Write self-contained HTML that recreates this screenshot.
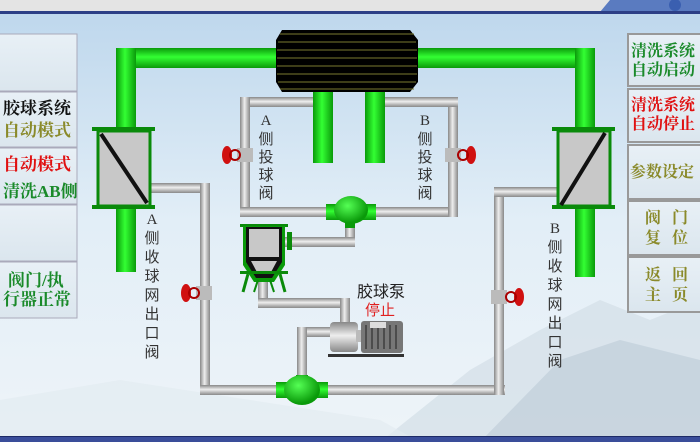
<!DOCTYPE html>
<html><head><meta charset="utf-8"><style>
body{margin:0;width:700px;height:442px;overflow:hidden;font-family:"Liberation Sans","Noto Sans CJK SC",sans-serif}
</style></head><body>
<svg width="700" height="442" viewBox="0 0 700 442" xmlns="http://www.w3.org/2000/svg" font-family="Liberation Serif,Noto Serif CJK SC,Noto Sans CJK SC,serif">
<defs>
<linearGradient id="sky" x1="0" y1="0" x2="0" y2="1"><stop offset="0" stop-color="#bcd6ec"/><stop offset="0.5" stop-color="#e2eef7"/><stop offset="1" stop-color="#eef4f8"/></linearGradient>
<linearGradient id="gv" x1="0" y1="0" x2="1" y2="0"><stop offset="0" stop-color="#0a9a0a"/><stop offset="0.45" stop-color="#33ff33"/><stop offset="1" stop-color="#0a9a0a"/></linearGradient>
<linearGradient id="gh" x1="0" y1="0" x2="0" y2="1"><stop offset="0" stop-color="#0a9a0a"/><stop offset="0.45" stop-color="#33ff33"/><stop offset="1" stop-color="#0a9a0a"/></linearGradient>
<linearGradient id="sv" x1="0" y1="0" x2="1" y2="0"><stop offset="0" stop-color="#888"/><stop offset="0.45" stop-color="#eee"/><stop offset="1" stop-color="#888"/></linearGradient>
<linearGradient id="sh" x1="0" y1="0" x2="0" y2="1"><stop offset="0" stop-color="#888"/><stop offset="0.45" stop-color="#eee"/><stop offset="1" stop-color="#888"/></linearGradient>
<radialGradient id="ball" cx="0.4" cy="0.35" r="0.6"><stop offset="0" stop-color="#55ff55"/><stop offset="1" stop-color="#0a9a0a"/></radialGradient>
<linearGradient id="btn" x1="0" y1="0" x2="0" y2="1"><stop offset="0" stop-color="#e8f0f6"/><stop offset="1" stop-color="#dbe6ee"/></linearGradient>
</defs>
<rect width="700" height="442" fill="url(#sky)"/>
<!-- mountains -->
<polygon points="380,442 470,370 540,330 600,300 650,320 700,300 700,442" fill="#d3dee7" opacity="0.7"/>
<polygon points="480,442 560,360 620,340 700,360 700,442" fill="#b9c9d6" opacity="0.55"/>
<polygon points="0,442 0,400 120,380 250,400 380,420 420,442" fill="#e3ebf1" opacity="0.7"/>
<!-- top bar -->
<rect x="0" y="0" width="700" height="12" fill="#e4e4e4"/>
<polygon points="610,0 700,0 700,12 600,12" fill="#5a7bc0"/>
<circle cx="675" cy="5" r="6" fill="#3a5fb0"/>
<rect x="0" y="11" width="700" height="3" fill="#2c3f86"/>
<rect x="0" y="436" width="700" height="6" fill="#3a4d9a"/>
<rect x="0" y="436" width="700" height="1" fill="#1d2a66"/>

<!-- left buttons -->
<g fill="url(#btn)" stroke="#aab" stroke-width="1">
<rect x="-1" y="34" width="78" height="57"/><rect x="-1" y="92" width="78" height="55"/><rect x="-1" y="148" width="78" height="56"/><rect x="-1" y="205" width="78" height="56"/><rect x="-1" y="262" width="78" height="56"/>
</g>
<g font-size="17" font-weight="bold" font-family="Liberation Serif,Noto Serif CJK SC,serif">
<text x="3" y="114" fill="#111">胶球系统</text>
<text x="3" y="136" fill="#8a8a2a">自动模式</text>
<text x="3" y="170" fill="#e01010">自动模式</text>
<text x="3" y="197" fill="#1a8a2a">清洗AB侧</text>
<text x="8" y="286" fill="#1a8a2a">阀门/执</text>
<text x="3" y="305" fill="#1a8a2a">行器正常</text>
</g>
<!-- right buttons -->
<g fill="url(#btn)" stroke="#999" stroke-width="2">
<rect x="628" y="34" width="80" height="52"/><rect x="628" y="89" width="80" height="53"/><rect x="628" y="145" width="80" height="54"/><rect x="628" y="201" width="80" height="54"/><rect x="628" y="257" width="80" height="55"/>
</g>
<g font-size="16" font-weight="bold" font-family="Liberation Serif,Noto Serif CJK SC,serif">
<text x="631" y="56" fill="#1a8a2a">清洗系统</text>
<text x="631" y="75" fill="#1a8a2a">自动启动</text>
<text x="631" y="110" fill="#e01010">清洗系统</text>
<text x="631" y="129" fill="#e01010">自动停止</text>
<text x="630" y="177" fill="#8a8a2a">参数设定</text>
<text x="645" y="223" fill="#8a8a2a">阀</text><text x="672" y="223" fill="#8a8a2a">门</text>
<text x="645" y="243" fill="#8a8a2a">复</text><text x="672" y="243" fill="#8a8a2a">位</text>
<text x="645" y="280" fill="#8a8a2a">返</text><text x="672" y="280" fill="#8a8a2a">回</text>
<text x="645" y="300" fill="#8a8a2a">主</text><text x="672" y="300" fill="#8a8a2a">页</text>
</g>

<!-- gray pipes -->
<g>
<rect x="150" y="183" width="60" height="10" fill="url(#sh)"/>
<rect x="200" y="183" width="10" height="212" fill="url(#sv)"/>
<rect x="200" y="385" width="305" height="10" fill="url(#sh)"/>
<rect x="494" y="187" width="10" height="208" fill="url(#sv)"/>
<rect x="494" y="187" width="65" height="10" fill="url(#sh)"/>
<rect x="240" y="97" width="75" height="10" fill="url(#sh)"/>
<rect x="240" y="97" width="10" height="118" fill="url(#sv)"/>
<rect x="240" y="207" width="218" height="10" fill="url(#sh)"/>
<rect x="448" y="97" width="10" height="120" fill="url(#sv)"/>
<rect x="385" y="97" width="73" height="10" fill="url(#sh)"/>
<rect x="345" y="210" width="10" height="37" fill="url(#sv)"/>
<rect x="285" y="237" width="70" height="10" fill="url(#sh)"/>
<rect x="258" y="280" width="10" height="28" fill="url(#sv)"/>
<rect x="258" y="298" width="92" height="10" fill="url(#sh)"/>
<rect x="340" y="298" width="10" height="26" fill="url(#sv)"/>
<rect x="297" y="327" width="40" height="10" fill="url(#sh)"/>
<rect x="297" y="327" width="10" height="60" fill="url(#sv)"/>
</g>

<!-- green pipes -->
<rect x="116" y="48" width="165" height="20" fill="url(#gh)"/>
<rect x="116" y="48" width="20" height="82" fill="url(#gv)"/>
<rect x="412" y="48" width="183" height="20" fill="url(#gh)"/>
<rect x="575" y="48" width="20" height="82" fill="url(#gv)"/>
<rect x="116" y="206" width="20" height="66" fill="url(#gv)"/>
<rect x="575" y="206" width="20" height="71" fill="url(#gv)"/>
<rect x="313" y="88" width="20" height="75" fill="url(#gv)"/>
<rect x="365" y="88" width="20" height="75" fill="url(#gv)"/>

<!-- condenser -->
<polygon points="282,30 410,30 418,40 418,82 410,92 282,92 276,82 276,40" fill="#000"/>
<g stroke="#7a7a30" stroke-width="1">
<line x1="280" y1="34" x2="414" y2="34"/><line x1="278" y1="42" x2="416" y2="42"/><line x1="277" y1="50" x2="417" y2="50"/><line x1="277" y1="58" x2="417" y2="58"/><line x1="277" y1="66" x2="417" y2="66"/><line x1="277" y1="74" x2="417" y2="74"/><line x1="278" y1="82" x2="416" y2="82"/><line x1="280" y1="89" x2="414" y2="89"/>
</g>

<!-- filters -->
<rect x="98" y="131" width="52" height="75" fill="#c8c8c8" stroke="#0a8a0a" stroke-width="3"/>
<rect x="92" y="127" width="63" height="4" fill="#0a8a0a"/><rect x="92" y="205" width="63" height="4" fill="#0a8a0a"/>
<line x1="101" y1="134" x2="147" y2="203" stroke="#111" stroke-width="4"/>
<rect x="558" y="131" width="52" height="75" fill="#c8c8c8" stroke="#0a8a0a" stroke-width="3"/>
<rect x="552" y="127" width="63" height="4" fill="#0a8a0a"/><rect x="552" y="205" width="63" height="4" fill="#0a8a0a"/>
<line x1="605" y1="133" x2="561" y2="205" stroke="#111" stroke-width="4"/>

<!-- balls -->
<g>
<rect x="326" y="204" width="50" height="16" fill="url(#gh)"/><rect x="345" y="220" width="10" height="8" fill="#0a9a0a"/>
<ellipse cx="351" cy="210" rx="17" ry="14" fill="url(#ball)"/>
<rect x="276" y="382" width="52" height="16" fill="url(#gh)"/><rect x="296" y="375" width="12" height="6" fill="#0a9a0a"/>
<ellipse cx="302" cy="390" rx="18" ry="15" fill="url(#ball)"/>
</g>

<!-- hopper -->
<g>
<rect x="240" y="224" width="48" height="3" fill="#0a8a0a"/>
<rect x="287" y="232" width="5" height="18" fill="#0a8a0a"/>
<polygon points="243,226 285,226 285,265 274,282 254,282 243,265" fill="#0a9a0a"/>
<polygon points="246,227 282,227 282,262 272,278 256,278 246,262" fill="#111"/>
<rect x="249" y="229" width="30" height="28" fill="#c8c8c8"/>
<polygon points="251,261 277,261 270,274 258,274" fill="#c8c8c8"/>
<rect x="240" y="271" width="48" height="3" fill="#0a8a0a"/>
<line x1="248" y1="274" x2="243" y2="292" stroke="#0a8a0a" stroke-width="3"/>
<line x1="280" y1="274" x2="285" y2="292" stroke="#0a8a0a" stroke-width="3"/>
<line x1="258" y1="280" x2="254" y2="292" stroke="#0a8a0a" stroke-width="2"/>
<line x1="270" y1="280" x2="274" y2="292" stroke="#0a8a0a" stroke-width="2"/>
</g>

<!-- pump -->
<g>
<rect x="328" y="354" width="76" height="3" fill="#333"/>
<rect x="330" y="322" width="28" height="30" rx="4" fill="url(#sh)"/>
<rect x="356" y="330" width="6" height="12" fill="#bbb"/>
<rect x="361" y="321" width="42" height="32" rx="3" fill="#777"/>
<g stroke="#222" stroke-width="1"><line x1="366" y1="325" x2="366" y2="349"/><line x1="372" y1="325" x2="372" y2="349"/><line x1="378" y1="325" x2="378" y2="349"/><line x1="384" y1="325" x2="384" y2="349"/><line x1="390" y1="325" x2="390" y2="349"/><line x1="396" y1="325" x2="396" y2="349"/></g>
<rect x="370" y="322" width="16" height="6" fill="#ddd"/>
</g>

<!-- valves -->
<g>
<rect x="196" y="286" width="16" height="14" fill="#bbb"/>
<ellipse cx="186" cy="293" rx="5" ry="9" fill="#d01010"/>
<circle cx="194" cy="293" r="5" fill="none" stroke="#a00" stroke-width="2"/>
</g>
<g>
<rect x="237" y="148" width="16" height="14" fill="#bbb"/>
<ellipse cx="227" cy="155" rx="5" ry="9" fill="#d01010"/>
<circle cx="235" cy="155" r="5" fill="none" stroke="#a00" stroke-width="2"/>
</g>
<g>
<rect x="445" y="148" width="16" height="14" fill="#bbb"/>
<ellipse cx="471" cy="155" rx="5" ry="9" fill="#d01010"/>
<circle cx="463" cy="155" r="5" fill="none" stroke="#a00" stroke-width="2"/>
</g>
<g>
<rect x="491" y="290" width="16" height="14" fill="#bbb"/>
<ellipse cx="519" cy="297" rx="5" ry="9" fill="#d01010"/>
<circle cx="511" cy="297" r="5" fill="none" stroke="#a00" stroke-width="2"/>
</g>

<!-- vertical labels -->
<g font-size="15" fill="#333" text-anchor="middle" font-family="Liberation Serif,Noto Sans CJK SC,sans-serif">
<text x="266" y="125">A</text><text x="266" y="144">侧</text><text x="266" y="162">投</text><text x="266" y="180">球</text><text x="266" y="198">阀</text>
<text x="425" y="125">B</text><text x="425" y="144">侧</text><text x="425" y="162">投</text><text x="425" y="180">球</text><text x="425" y="198">阀</text>
<text x="152" y="224">A</text><text x="152" y="243">侧</text><text x="152" y="262">收</text><text x="152" y="281">球</text><text x="152" y="300">网</text><text x="152" y="319">出</text><text x="152" y="338">口</text><text x="152" y="357">阀</text>
<text x="555" y="233">B</text><text x="555" y="252">侧</text><text x="555" y="271">收</text><text x="555" y="290">球</text><text x="555" y="309">网</text><text x="555" y="328">出</text><text x="555" y="347">口</text><text x="555" y="366">阀</text>
</g>
<text x="357" y="297" font-size="16" fill="#222" font-family="Liberation Sans,Noto Sans CJK SC,sans-serif">胶球泵</text>
<text x="365" y="315" font-size="15" fill="#e02020" font-family="Liberation Sans,Noto Sans CJK SC,sans-serif">停止</text>
</svg>
</body></html>
